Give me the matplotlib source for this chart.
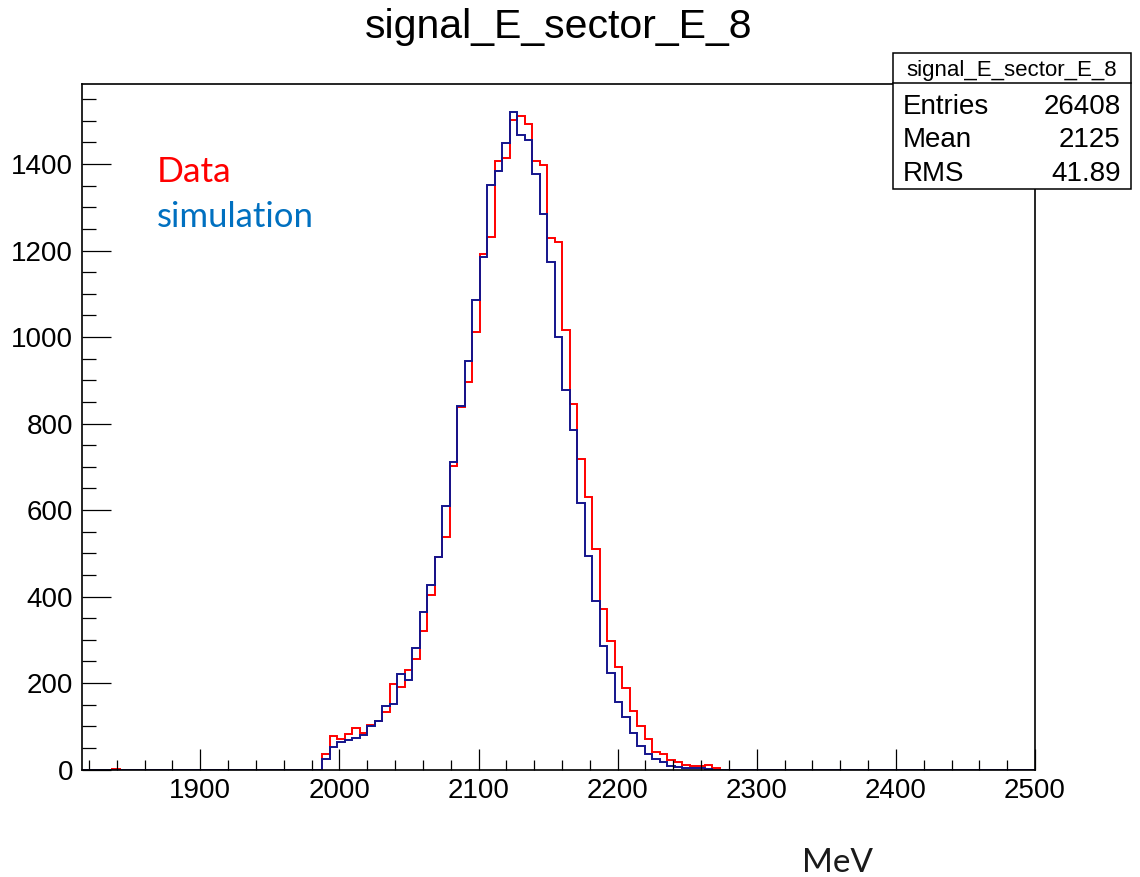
import numpy as np
import matplotlib
matplotlib.use("Agg")
import matplotlib.pyplot as plt
from matplotlib.patches import Rectangle
from matplotlib.lines import Line2D
from matplotlib.ticker import MultipleLocator

# ---------------------------------------------------------------------------
# Data (ROOT TH1: 127 bins between 1815 and 2500 MeV)
# ---------------------------------------------------------------------------
X_MIN, X_MAX, N_BINS = 1815.0, 2500.0, 127
FIRST_FILLED_BIN = 32

data_counts = [35, 78, 71, 81, 97, 84, 102, 112, 132, 197,
               191, 230, 255, 320, 403, 492, 538, 702, 839, 897,
               1012, 1193, 1232, 1407, 1414, 1502, 1511, 1492, 1407, 1398,
               1229, 1220, 1016, 844, 718, 631, 509, 372, 298, 238,
               188, 136, 101, 71, 40, 36, 23, 18, 10, 8,
               8, 10, 3]
sim_counts = [24, 53, 64, 68, 73, 79, 101, 111, 146, 151,
              220, 208, 281, 365, 427, 492, 609, 712, 840, 945,
              1085, 1185, 1351, 1383, 1449, 1520, 1468, 1455, 1378, 1284,
              1174, 1000, 877, 785, 617, 494, 390, 286, 222, 157,
              122, 84, 54, 35, 25, 17, 8, 6, 3, 3,
              3, 1, 0]
# lone data entry in the low tail
data_tail_bin, data_tail_count = 4, 2

title = "signal_E_sector_E_8"
stats_name = "signal_E_sector_E_8"
stats_labels = ["Entries", "Mean", "RMS"]
stats_values = ["26408", "2125", "41.89"]
legend_labels = ["Data", "simulation"]
x_label = "MeV"

W, H = 1140, 877
ROOT_FONT = "Liberation Sans"
NOTE_FONT = "Lato"


def fx(px):
    return px / W


def fy(py):
    return 1 - py / H


def fill_hist(counts, first):
    h = np.zeros(N_BINS)
    h[first:first + len(counts)] = counts
    return h


edges = np.linspace(X_MIN, X_MAX, N_BINS + 1)
h_data = fill_hist(data_counts, FIRST_FILLED_BIN)
h_data[data_tail_bin] = data_tail_count
h_sim = fill_hist(sim_counts, FIRST_FILLED_BIN)

fig = plt.figure(figsize=(W / 100, H / 100), dpi=100)
ax = fig.add_axes([fx(82), fy(769.5), fx(1035) - fx(82), fy(83.6) - fy(769.5)])

ax.stairs(h_data, edges, color="#ff0000", linewidth=1.4, baseline=0)
ax.stairs(h_sim, edges, color="#14148c", linewidth=1.4, baseline=0)

ax.set_xlim(X_MIN, X_MAX)
ax.set_ylim(0, 1586)

ax.xaxis.set_major_locator(MultipleLocator(100))
ax.xaxis.set_minor_locator(MultipleLocator(20))
ax.yaxis.set_major_locator(MultipleLocator(200))
ax.yaxis.set_minor_locator(MultipleLocator(50))

ax.tick_params(axis="both", which="both", direction="in", top=False, right=False,
               width=0.9, color="black")
ax.tick_params(axis="x", which="major", length=14.9, pad=6)
ax.tick_params(axis="x", which="minor", length=7.4)
ax.tick_params(axis="y", which="major", length=20.6, pad=6.5)
ax.tick_params(axis="y", which="minor", length=10.3)
for lab in ax.get_xticklabels() + ax.get_yticklabels():
    lab.set_fontfamily(ROOT_FONT)
    lab.set_fontsize(20)
for sp in ax.spines.values():
    sp.set_linewidth(1.2)

# title
fig.text(fx(558.5), fy(38), title, ha="center", va="baseline",
         fontsize=29.5, family=ROOT_FONT)

# stats box
x0, x1, y0, y1 = 892.7, 1130.7, 53.3, 189.3
fig.patches.append(Rectangle((fx(x0), fy(y1)), fx(x1) - fx(x0), fy(y0) - fy(y1),
                             transform=fig.transFigure, facecolor="white",
                             edgecolor="black", linewidth=1.1))
fig.lines.append(Line2D([fx(x0), fx(x1)], [fy(83.3), fy(83.3)],
                        transform=fig.transFigure, color="black", linewidth=1.1))
fig.text(fx((x0 + x1) / 2), fy(76), stats_name, ha="center", va="baseline",
         fontsize=16, family=ROOT_FONT)
for lab, val, base in zip(stats_labels, stats_values, [114, 147, 181]):
    fig.text(fx(902.7), fy(base), lab, ha="left", va="baseline",
             fontsize=20, family=ROOT_FONT)
    fig.text(fx(1120.7), fy(base), val, ha="right", va="baseline",
             fontsize=20, family=ROOT_FONT)

# hand-written annotations
fig.text(fx(156.7), fy(181.7), legend_labels[0], ha="left", va="baseline",
         fontsize=25.5, family=NOTE_FONT, color="#ff0000")
fig.text(fx(156.7), fy(227.3), legend_labels[1], ha="left", va="baseline",
         fontsize=25, family=NOTE_FONT, color="#0070c0")
fig.text(fx(801.7), fy(871.7), x_label, ha="left", va="baseline",
         fontsize=24, family=NOTE_FONT, color="#1a1a1a")

fig.savefig("out.png", dpi=100)
